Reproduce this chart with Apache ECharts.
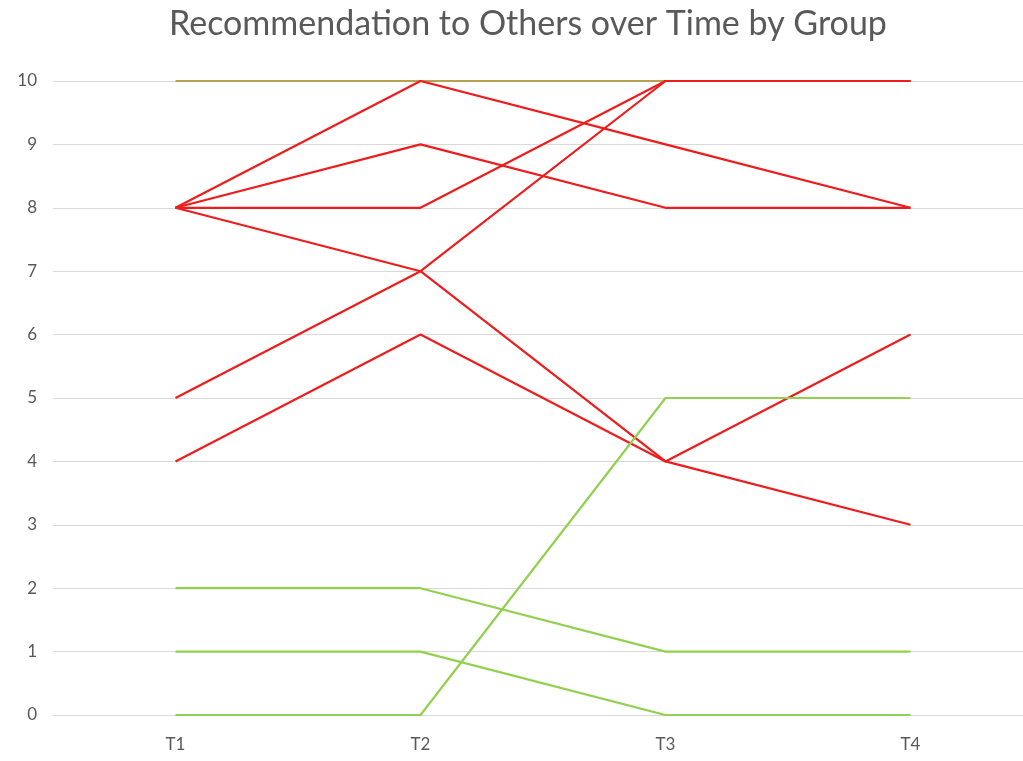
<!DOCTYPE html>
<html>
<head>
<meta charset="utf-8">
<script src="https://cdn.jsdelivr.net/npm/echarts@6/dist/echarts.min.js"></script>
<style>
  html, body { margin: 0; padding: 0; background: #fff; }
  #chart { width: 1023px; height: 761px; }
</style>
</head>
<body>
<div id="chart"></div>
<script>
var times = ['T1', 'T2', 'T3', 'T4'];

// gold line sits at the top under the red ones
var goldA = [10, 10, 10, 10];

// red group
var redA = [8, 10, 9, 8];
var redB = [8, 9, 8, 8];
var redC = [8, 8, 10, 10];
var redD = [8, 7, 4, 3];
var redE = [5, 7, 10, 10];
var redF = [4, 6, 4, 6];

// green group
var greenA = [2, 2, 1, 1];
var greenB = [1, 1, 0, 0];
var greenC = [0, 0, 5, 5];

var yTicks = [0, 10, 1];  // min, max, interval

var myChart = echarts.init(document.getElementById('chart'));

function line(name, data, color){
	return {
		name: name,
		type: 'line',
		data: data,
		symbol: 'none',
		lineStyle: { color: color, width: 2.2 },
		itemStyle: { color: color },
		animation: false
	};
}

var option = {
	backgroundColor: '#fff',
	title: {
		text: 'Recommendation to Others over Time by Group',
		left: 164,
		top: 2,
		textStyle: {
			fontFamily: 'Lato',
			fontSize: 34,
			fontWeight: 'normal',
			color: '#595959'
		}
	},
	grid: {
		left: 53,
		width: 980,
		top: 81,
		bottom: 46,
		outerBoundsMode: 'none'
	},
	xAxis: {
		type: 'category',
		data: times,
		boundaryGap: true,
		axisLine: { show: true, lineStyle: { color: '#d9d9d9' } },
		axisTick: { show: false },
		axisLabel: {
			color: '#595959',
			fontFamily: 'Lato',
			fontSize: 17,
			margin: 21
		}
	},
	yAxis: {
		type: 'value',
		min: yTicks[0],
		max: yTicks[1],
		interval: yTicks[2],
		axisLine: { show: false },
		axisTick: { show: false },
		splitLine: { lineStyle: { color: '#d9d9d9', width: 1 } },
		axisLabel: {
			color: '#595959',
			fontFamily: 'Lato',
			fontSize: 17,
			margin: 16
		}
	},
	series: [
		line('Gold', goldA, '#b8a04e'),
		line('R1', redA, '#ee1c1c'),
		line('R2', redB, '#ee1c1c'),
		line('R3', redC, '#ee1c1c'),
		line('R4', redD, '#ee1c1c'),
		line('R5', redE, '#ee1c1c'),
		line('R6', redF, '#ee1c1c'),
		line('G1', greenA, '#92d050'),
		line('G2', greenB, '#92d050'),
		line('G3', greenC, '#92d050')
	]
};
myChart.setOption(option);
</script>
</body>
</html>
